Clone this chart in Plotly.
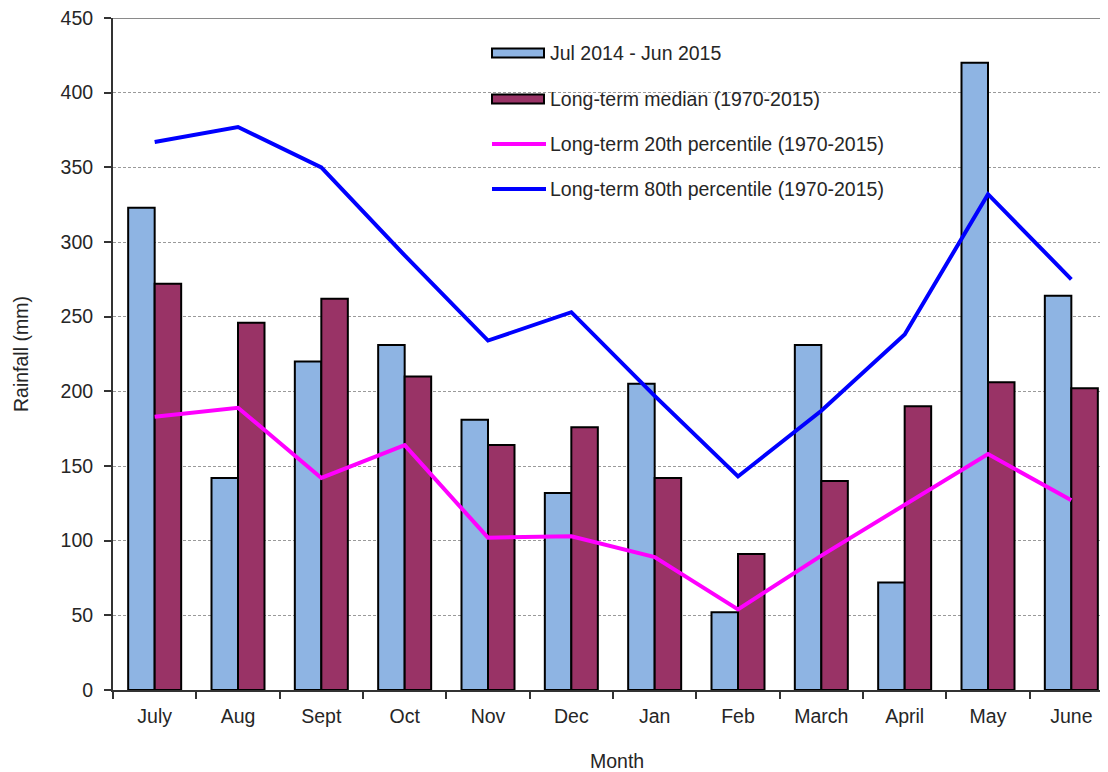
import plotly.graph_objects as go

months = ["July", "Aug", "Sept", "Oct", "Nov", "Dec", "Jan", "Feb", "March", "April", "May", "June"]
rain_2014_15 = [323, 142, 220, 231, 181, 132, 205, 52, 231, 72, 420, 264]
median_lt = [272, 246, 262, 210, 164, 176, 142, 91, 140, 190, 206, 202]
p20_lt = [183, 189, 142, 164, 102, 103, 89, 54, 90, 124, 158, 127]
p80_lt = [367, 377, 350, 291, 234, 253, 197, 143, 187, 238, 332, 275]

series_names = ["Jul 2014 - Jun 2015", "Long-term median (1970-2015)",
                "Long-term 20th percentile (1970-2015)", "Long-term 80th percentile (1970-2015)"]
bar_colors = ["#8EB4E3", "#993366"]
line_colors = ["#FF00FF", "#0000FF"]

# page body adds an 8px margin; compensate so the picture matches the 1108x772 window
OFF = 8
W, H = 1108 - OFF, 772 - OFF
# plot area in reference (screen) pixels
L, R, T, B = 113, 1108, 18, 690
FONT = "Liberation Sans, Arial, sans-serif"
FS = 19.5
TXT = "#262626"

def px(xp):
    return (xp - L) / (R - L)

def py(yp):
    return (B - yp) / (B - T)

fig = go.Figure()
fig.add_trace(go.Bar(x=months, y=rain_2014_15, name=series_names[0],
                     marker=dict(color=bar_colors[0], line=dict(color="black", width=2))))
fig.add_trace(go.Bar(x=months, y=median_lt, name=series_names[1],
                     marker=dict(color=bar_colors[1], line=dict(color="black", width=2))))
fig.add_trace(go.Scatter(x=months, y=p20_lt, name=series_names[2], mode="lines",
                         line=dict(color=line_colors[0], width=4)))
fig.add_trace(go.Scatter(x=months, y=p80_lt, name=series_names[3], mode="lines",
                         line=dict(color=line_colors[1], width=4)))

shapes = []
annotations = []
# white legend background (above grid, below traces)
shapes.append(dict(type="rect", xref="paper", yref="paper", x0=px(445), x1=px(932),
                   y0=py(212), y1=py(22), fillcolor="white", line=dict(width=0), layer="between"))
# top border
shapes.append(dict(type="line", xref="paper", yref="y", x0=0, x1=1, y0=450, y1=450,
                   line=dict(color="#8a8a8a", width=2), layer="above"))
# legend entries
leg_y = [53, 99, 144, 189]
for i in range(4):
    yc = leg_y[i]
    if i < 2:
        shapes.append(dict(type="rect", xref="paper", yref="paper", x0=px(492), x1=px(544),
                           y0=py(yc + 4.5), y1=py(yc - 4.5), fillcolor=bar_colors[i],
                           line=dict(color="black", width=2)))
    else:
        shapes.append(dict(type="line", xref="paper", yref="paper", x0=px(492), x1=px(546),
                           y0=py(yc), y1=py(yc), line=dict(color=line_colors[i - 2], width=4)))
    annotations.append(dict(text=series_names[i], xref="paper", yref="paper", x=px(548), y=py(yc),
                            xanchor="left", yanchor="middle", showarrow=False,
                            font=dict(family=FONT, size=FS, color=TXT)))
# axis titles
annotations.append(dict(text="Rainfall (mm)", xref="paper", yref="paper", x=px(21), y=py(354),
                        xanchor="center", yanchor="middle", textangle=-90, showarrow=False,
                        font=dict(family=FONT, size=FS, color=TXT)))
annotations.append(dict(text="Month", xref="paper", yref="paper", x=px(617), y=py(761),
                        xanchor="center", yanchor="middle", showarrow=False,
                        font=dict(family=FONT, size=FS, color=TXT)))

fig.update_layout(
    width=W, height=H,
    margin=dict(l=L - OFF, r=W - (R - OFF), t=T - OFF, b=H - (B - OFF), pad=0),
    paper_bgcolor="white", plot_bgcolor="white",
    barmode="group", bargap=0.364, bargroupgap=0,
    showlegend=False,
    shapes=shapes, annotations=annotations,
    font=dict(family=FONT, size=FS, color=TXT),
    xaxis=dict(range=[-0.5, 11.44], showline=True, linecolor="#333333", linewidth=2,
               ticks="outside", tickson="boundaries", ticklen=7, tickcolor="#333333", tickwidth=1.5,
               showgrid=False, ticklabelstandoff=8, tickfont=dict(family=FONT, size=FS, color=TXT)),
    yaxis=dict(range=[0, 450], dtick=50, showline=True, linecolor="#333333", linewidth=2,
               ticks="outside", ticklen=7, tickcolor="#333333", tickwidth=1.5,
               showgrid=True, gridcolor="#9a9a9a", gridwidth=1, griddash="3px,2px",
               zeroline=False, ticklabelstandoff=7, ticklabeloverflow="allow",
               tickfont=dict(family=FONT, size=FS, color=TXT)),
)

fig.write_html("out.html")
